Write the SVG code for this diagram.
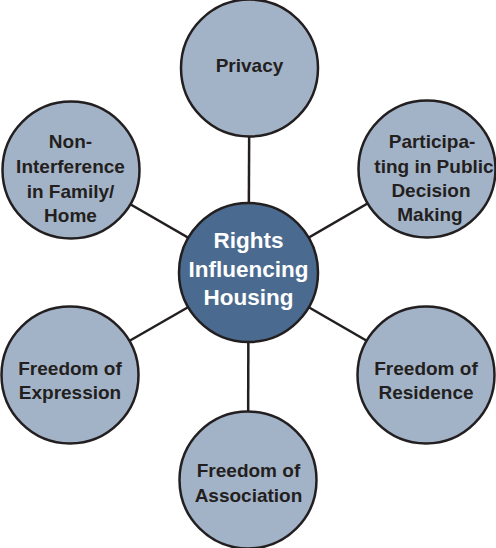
<svg xmlns="http://www.w3.org/2000/svg" width="496" height="548" viewBox="0 0 496 548">
<style>
.edge{stroke:#231f20;stroke-width:2.5;fill:none}
.outer{fill:#a3b3c7;stroke:#231f20;stroke-width:2.5}
.hub{fill:#4a6b8f;stroke:#231f20;stroke-width:2.5}
.lbl{font-family:"Liberation Sans",Arial,sans-serif;font-weight:bold;font-size:19px;fill:#231f20;text-anchor:middle}
.hubl{font-family:"Liberation Sans",Arial,sans-serif;font-weight:bold;font-size:22.5px;fill:#ffffff;text-anchor:middle}
</style>
<rect width="496" height="548" fill="#ffffff"/>
<g id="connectors">
<line class="edge" x1="248.5" y1="272.5" x2="249.5" y2="68"/>
<line class="edge" x1="248.5" y1="272.5" x2="427" y2="169"/>
<line class="edge" x1="248.5" y1="272.5" x2="426" y2="375"/>
<line class="edge" x1="248.5" y1="272.5" x2="248" y2="480"/>
<line class="edge" x1="248.5" y1="272.5" x2="70" y2="375"/>
<line class="edge" x1="248.5" y1="272.5" x2="71" y2="170"/>
</g>
<g id="privacy">
<circle class="outer" cx="249.5" cy="68" r="68.5"/>
<text class="lbl" x="249.5" y="72">Privacy</text>
</g>
<g id="participating">
<circle class="outer" cx="427" cy="169" r="68.5"/>
<text class="lbl" x="432" y="148">Participa-</text>
<text class="lbl" x="434" y="173">ting in Public</text>
<text class="lbl" x="431" y="197">Decision</text>
<text class="lbl" x="430" y="221">Making</text>
</g>
<g id="residence">
<circle class="outer" cx="426" cy="375" r="68.5"/>
<text class="lbl" x="426" y="375">Freedom of</text>
<text class="lbl" x="426" y="399">Residence</text>
</g>
<g id="association">
<circle class="outer" cx="248" cy="480" r="68.5"/>
<text class="lbl" x="248.5" y="477">Freedom of</text>
<text class="lbl" x="248.5" y="502">Association</text>
</g>
<g id="expression">
<circle class="outer" cx="70" cy="375" r="68.5"/>
<text class="lbl" x="70" y="375">Freedom of</text>
<text class="lbl" x="70" y="399">Expression</text>
</g>
<g id="noninterference">
<circle class="outer" cx="71" cy="170" r="68.5"/>
<text class="lbl" x="70.5" y="148">Non-</text>
<text class="lbl" x="70.5" y="173">Interference</text>
<text class="lbl" x="70.5" y="198">in Family/</text>
<text class="lbl" x="70.5" y="222">Home</text>
</g>
<g id="rights">
<circle class="hub" cx="248.5" cy="272.5" r="69.5"/>
<text class="hubl" x="248.5" y="248">Rights</text>
<text class="hubl" x="248.5" y="277">Influencing</text>
<text class="hubl" x="248.5" y="305">Housing</text>
</g>
</svg>
